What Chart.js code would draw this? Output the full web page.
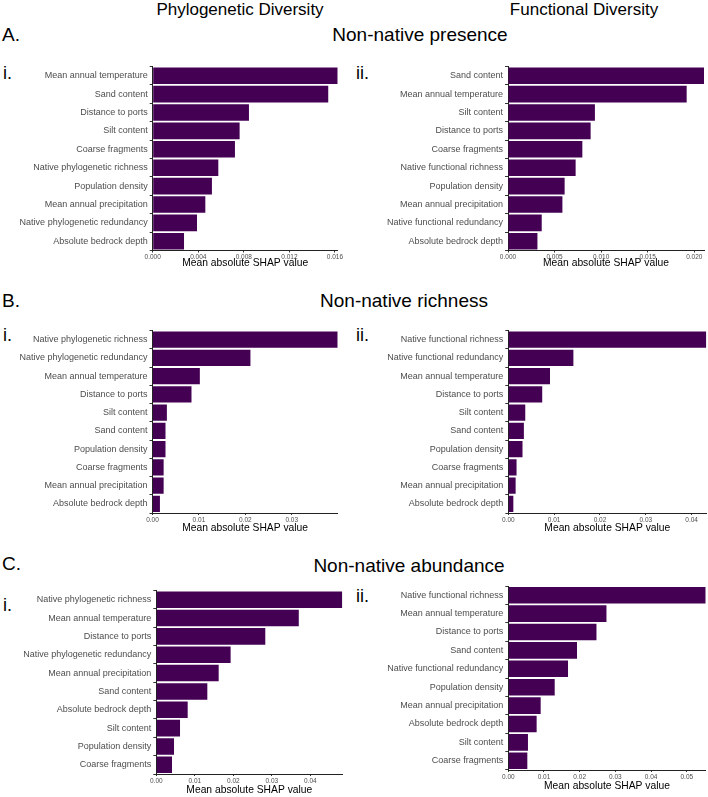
<!DOCTYPE html>
<html>
<head>
<meta charset="utf-8">
<script src="https://cdn.jsdelivr.net/npm/chart.js@4.4.1/dist/chart.umd.min.js"></script>
<style>
  body { margin: 0; width: 708px; height: 797px; background: #fff; position: relative; overflow: hidden;
         font-family: "Liberation Sans", Arial, sans-serif; }
  .c { position: absolute; transform: translate(-50%, -50%); white-space: nowrap; color: #000; line-height: 1; }
  .l { position: absolute; transform: translate(0, -50%); white-space: nowrap; color: #000; line-height: 1; }
  canvas { position: absolute; }
</style>
</head>
<body>
<div class="c" style="left:240px;top:9px;font-size:17px">Phylogenetic Diversity</div>
<div class="c" style="left:584px;top:9px;font-size:17px">Functional Diversity</div>

<div class="l" style="left:2px;top:34px;font-size:19px">A.</div>
<div class="c" style="left:420px;top:34px;font-size:19px">Non-native presence</div>
<div class="l" style="left:3px;top:73px;font-size:18px">i.</div>
<div class="l" style="left:356px;top:73px;font-size:18px">ii.</div>

<div class="l" style="left:2px;top:300px;font-size:19px">B.</div>
<div class="c" style="left:404px;top:300px;font-size:19px">Non-native richness</div>
<div class="l" style="left:3px;top:335px;font-size:18px">i.</div>
<div class="l" style="left:356px;top:335px;font-size:18px">ii.</div>

<div class="l" style="left:2px;top:563px;font-size:19px">C.</div>
<div class="c" style="left:409px;top:565px;font-size:19px">Non-native abundance</div>
<div class="l" style="left:3px;top:605px;font-size:18px">i.</div>
<div class="l" style="left:356px;top:596px;font-size:18px">ii.</div>

<canvas id="presPhylo"></canvas>
<canvas id="presFunc"></canvas>
<canvas id="richPhylo"></canvas>
<canvas id="richFunc"></canvas>
<canvas id="abunPhylo"></canvas>
<canvas id="abunFunc"></canvas>

<script>
// A. Non-native presence
const presPhyloCats = ['Mean annual temperature', 'Sand content', 'Distance to ports', 'Silt content', 'Coarse fragments',
    'Native phylogenetic richness', 'Population density', 'Mean annual precipitation', 'Native phylogenetic redundancy', 'Absolute bedrock depth'];
const presPhyloVals = [0.01624, 0.01541, 0.00845, 0.00763, 0.00722, 0.00576, 0.0052, 0.00462, 0.00389, 0.00275];
const presPhyloTicks = [0, 0.004, 0.008, 0.012, 0.016];
const presPhyloTickLabels = ['0.000', '0.004', '0.008', '0.012', '0.016'];

const presFuncCats = ['Sand content', 'Mean annual temperature', 'Silt content', 'Distance to ports', 'Coarse fragments',
    'Native functional richness', 'Population density', 'Mean annual precipitation', 'Native functional redundancy', 'Absolute bedrock depth'];
const presFuncVals = [0.02104, 0.01918, 0.00933, 0.00887, 0.00798, 0.00726, 0.00608, 0.00584, 0.00362, 0.00316];
const presFuncTicks = [0, 0.005, 0.01, 0.015, 0.02];
const presFuncTickLabels = ['0.000', '0.005', '0.010', '0.015', '0.020'];

// B. Non-native richness
const richPhyloCats = ['Native phylogenetic richness', 'Native phylogenetic redundancy', 'Mean annual temperature', 'Distance to ports',
    'Silt content', 'Sand content', 'Population density', 'Coarse fragments', 'Mean annual precipitation', 'Absolute bedrock depth'];
const richPhyloVals = [0.0399, 0.0211, 0.0102, 0.0084, 0.0031, 0.0028, 0.0028, 0.0024, 0.0024, 0.0016];
const richPhyloTicks = [0, 0.01, 0.02, 0.03];
const richPhyloTickLabels = ['0.00', '0.01', '0.02', '0.03'];

const richFuncCats = ['Native functional richness', 'Native functional redundancy', 'Mean annual temperature', 'Distance to ports',
    'Silt content', 'Sand content', 'Population density', 'Coarse fragments', 'Mean annual precipitation', 'Absolute bedrock depth'];
const richFuncVals = [0.0432, 0.0142, 0.0091, 0.0074, 0.0037, 0.0034, 0.0031, 0.0018, 0.0016, 0.0011];
const richFuncTicks = [0, 0.01, 0.02, 0.03, 0.04];
const richFuncTickLabels = ['0.00', '0.01', '0.02', '0.03', '0.04'];

// C. Non-native abundance
const abunPhyloCats = ['Native phylogenetic richness', 'Mean annual temperature', 'Distance to ports', 'Native phylogenetic redundancy',
    'Mean annual precipitation', 'Sand content', 'Absolute bedrock depth', 'Silt content', 'Population density', 'Coarse fragments'];
const abunPhyloVals = [0.0483, 0.0370, 0.0283, 0.0193, 0.0162, 0.01325, 0.00815, 0.00616, 0.0046, 0.00408];
const abunPhyloTicks = [0, 0.01, 0.02, 0.03, 0.04];
const abunPhyloTickLabels = ['0.00', '0.01', '0.02', '0.03', '0.04'];

const abunFuncCats = ['Native functional richness', 'Mean annual temperature', 'Distance to ports', 'Sand content',
    'Native functional redundancy', 'Population density', 'Mean annual precipitation', 'Absolute bedrock depth', 'Silt content', 'Coarse fragments'];
const abunFuncVals = [0.0553, 0.0275, 0.0247, 0.01925, 0.01673, 0.013, 0.00907, 0.00794, 0.00551, 0.00533];
const abunFuncTicks = [0, 0.01, 0.02, 0.03, 0.04, 0.05];
const abunFuncTickLabels = ['0.00', '0.01', '0.02', '0.03', '0.04', '0.05'];

const family = '"Liberation Sans", Arial, sans-serif';
const barColor = '#440154';

// box: canvas edges (cl, cr, ct, cb) and plot area edges (l, r, t, b), page pixels
function drawPanel(id, cats, vals, tickVals, tickLabels, box) {
    const cv = document.getElementById(id);
    cv.width = box.cr - box.cl;
    cv.height = box.cb - box.ct;
    cv.style.left = box.cl + 'px';
    cv.style.top = box.ct + 'px';
    return new Chart(cv, {
        type: 'bar',
        data: {
            labels: cats,
            datasets: [{
                data: vals,
                backgroundColor: barColor,
                borderWidth: 0,
                categoryPercentage: 0.9,
                barPercentage: 1
            }]
        },
        options: {
            indexAxis: 'y',
            responsive: false,
            animation: false,
            layout: { padding: { top: box.t - box.ct, right: box.cr - box.r, left: 0, bottom: 0 } },
            plugins: { legend: { display: false }, tooltip: { enabled: false } },
            scales: {
                x: {
                    type: 'linear',
                    min: 0,
                    max: Math.max(...vals),
                    bounds: 'data',
                    afterBuildTicks: s => { s.ticks = tickVals.map(v => ({ value: v })); },
                    afterFit: s => { s.height = box.cb - box.b; s.paddingLeft = 0; s.paddingRight = 0; },
                    ticks: {
                        callback: (v, i) => tickLabels[i],
                        font: { size: 6.5, family: family },
                        color: '#4d4d4d',
                        padding: 1,
                        maxRotation: 0,
                        autoSkip: false
                    },
                    grid: { drawOnChartArea: false, tickLength: 2, color: '#333' },
                    border: { display: true, color: '#222', width: 1 },
                    title: {
                        display: true,
                        text: 'Mean absolute SHAP value',
                        font: { size: 10.3, family: family },
                        color: '#000',
                        padding: 0
                    }
                },
                y: {
                    afterFit: s => { s.width = box.l - box.cl; s.paddingTop = 0; s.paddingBottom = 0; },
                    ticks: { font: { size: 9, family: family }, color: '#4d4d4d', padding: 2, autoSkip: false },
                    grid: { drawOnChartArea: false, tickLength: 3, color: '#333' },
                    border: { display: true, color: '#222', width: 1 }
                }
            }
        }
    });
}

drawPanel('presPhylo', presPhyloCats, presPhyloVals, presPhyloTicks, presPhyloTickLabels,
    { cl: 0, cr: 350, ct: 63, cb: 269, l: 152.7, r: 337.7, t: 66.5, b: 250.5 });
drawPanel('presFunc', presFuncCats, presFuncVals, presFuncTicks, presFuncTickLabels,
    { cl: 360, cr: 708, ct: 63, cb: 269, l: 508, r: 704, t: 66.5, b: 250.5 });
drawPanel('richPhylo', richPhyloCats, richPhyloVals, richPhyloTicks, richPhyloTickLabels,
    { cl: 0, cr: 350, ct: 326, cb: 534, l: 152.5, r: 337.7, t: 330.5, b: 513 });
drawPanel('richFunc', richFuncCats, richFuncVals, richFuncTicks, richFuncTickLabels,
    { cl: 360, cr: 708, ct: 326, cb: 534, l: 508.3, r: 706.3, t: 330.5, b: 513 });
drawPanel('abunPhylo', abunPhyloCats, abunPhyloVals, abunPhyloTicks, abunPhyloTickLabels,
    { cl: 0, cr: 350, ct: 586, cb: 796, l: 156.3, r: 342.3, t: 590.5, b: 774 });
drawPanel('abunFunc', abunFuncCats, abunFuncVals, abunFuncTicks, abunFuncTickLabels,
    { cl: 360, cr: 708, ct: 582, cb: 792, l: 508.3, r: 705.7, t: 586, b: 770 });
</script>
</body>
</html>
